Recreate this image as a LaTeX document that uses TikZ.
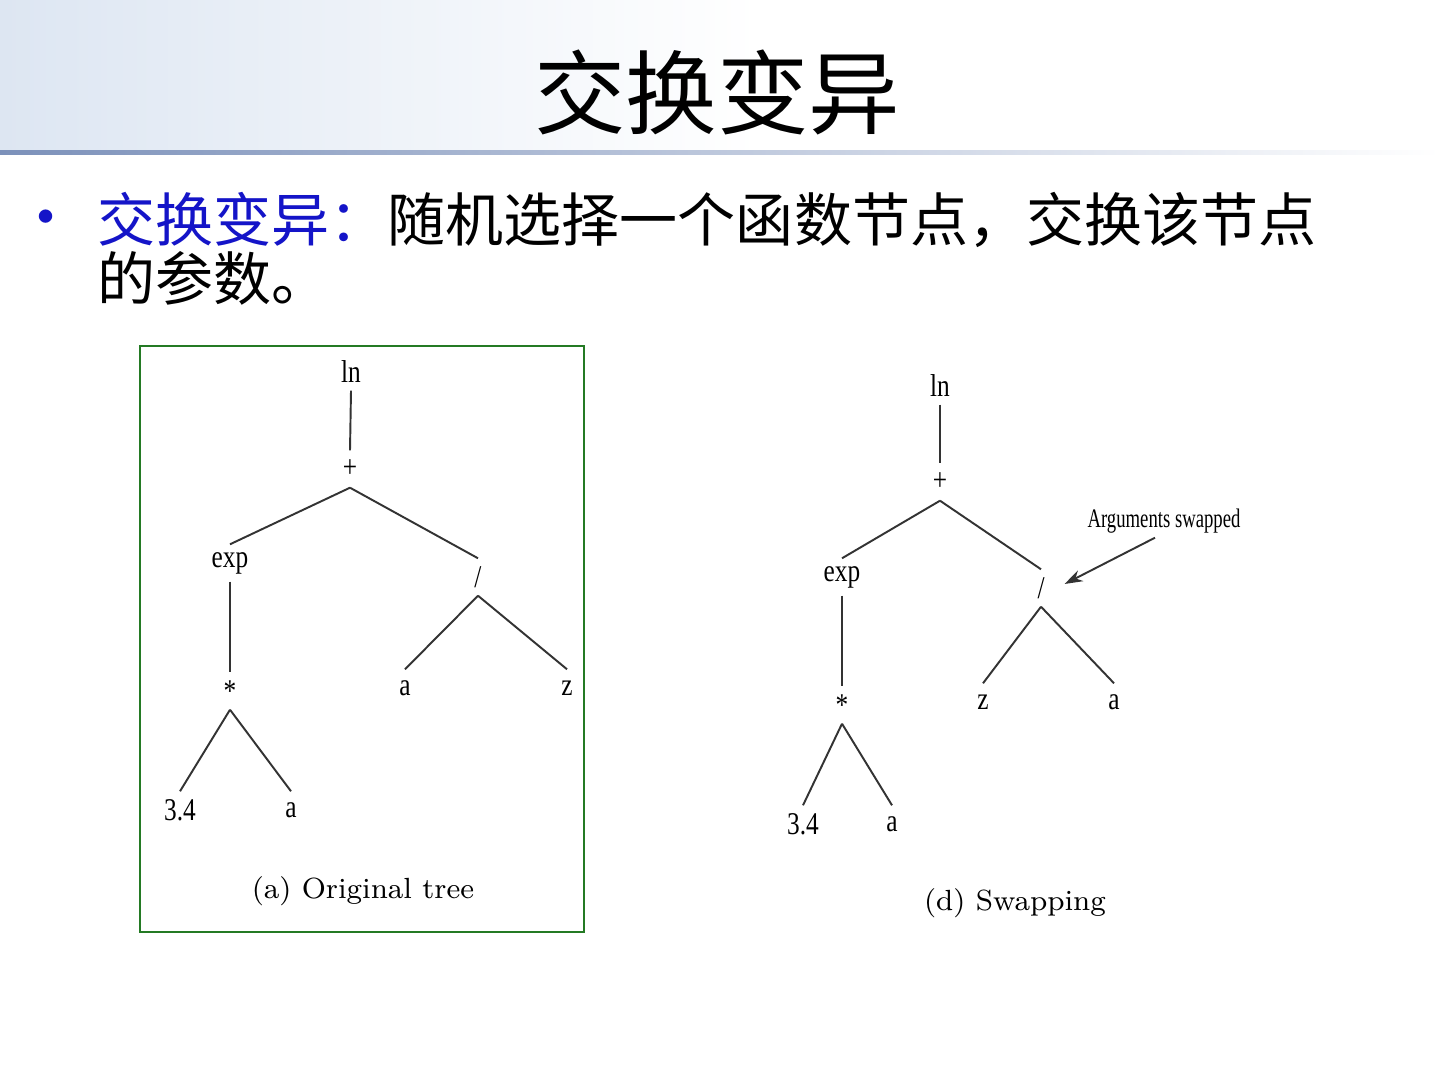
\documentclass[tikz,border=0pt]{standalone}
\usepackage{fontspec}
\usepackage{xcolor}
\usepackage{tikz}
\usetikzlibrary{arrows.meta,positioning}
\newfontfamily\cjk{Noto Sans CJK SC}
\newfontfamily\treefont{Liberation Serif}
\definecolor{barblue}{HTML}{DDE6F2}
\definecolor{barrule}{HTML}{7C91BA}
\definecolor{slideblue}{HTML}{1414C8}
\definecolor{framegreen}{HTML}{247A24}

\begin{document}
\begin{tikzpicture}[x=0.01cm,y=-0.01cm,
  lbl/.style={font=\treefont\fontsize{9}{9}\selectfont,xscale=0.8,inner sep=0pt,minimum height=0.36cm,minimum width=0.2cm},
  note/.style={font=\treefont\fontsize{7.6}{7.6}\selectfont,xscale=0.7,inner sep=0pt,minimum height=0.32cm},
  subcap/.style={font=\fontsize{8.3}{8.3}\selectfont,inner sep=0pt},
  edge/.style={line width=0.55pt,black!80},
  ar/.style={-{Stealth[length=1.8mm,width=1.2mm]},line width=0.55pt,black!80},
  frame/.style={draw=framegreen,line width=0.6pt},
]
\useasboundingbox (0,0) rectangle (1440,1080);
\fill[white] (0,0) rectangle (1440,1080);

% title bar
\shade[left color=barblue,right color=white] (0,0) rectangle (760,151);
\shade[left color=barrule,right color=white] (0,151) rectangle (1440,155);
\node[font=\cjk\fontsize{26}{26}\selectfont] (title) at (717,92) {交换变异};

% bullet text
\node[text=slideblue,font=\fontsize{17}{17}\selectfont] (dot) at (46,221) {\textbullet};
\node[anchor=west,inner sep=0pt,font=\cjk\fontsize{16.5}{16.5}\selectfont] (line1) at (97,220)
  {\textcolor{slideblue}{交换变异：}随机选择一个函数节点，交换该节点};
\node[anchor=west,inner sep=0pt,font=\cjk\fontsize{16.5}{16.5}\selectfont] (line2) at (97,278) {的参数。};

% (a) original tree
\draw[frame] (140,346) rectangle (584,932);
\node[lbl] (aln) at (351,372) {ln};
\node[lbl] (aplus) at (350,469) {+};
\node[lbl] (aexp) at (230,563) {exp};
\node[lbl] (adiv) at (478,577) {/};
\node[lbl] (amul) at (230,691) {*};
\node[lbl] (aa) at (405,688) {a};
\node[lbl] (az) at (567,688) {z};
\node[lbl] (anum) at (180,810) {3.4};
\node[lbl] (ab) at (291,810) {a};
\draw[edge] (aln.south) -- (aplus.north);
\draw[edge] (aplus.south) -- (aexp.north);
\draw[edge] (aplus.south) -- (adiv.north);
\draw[edge] (aexp.south) -- (amul.north);
\draw[edge] (adiv.south) -- (aa.north);
\draw[edge] (adiv.south) -- (az.north);
\draw[edge] (amul.south) -- (anum.north);
\draw[edge] (amul.south) -- (ab.north);
\node[subcap] (capa) at (363,891) {(a) Original tree};

% (d) swapped tree
\node[lbl] (dln) at (940,386) {ln};
\node[lbl] (dplus) at (940,482) {+};
\node[lbl] (dexp) at (842,577) {exp};
\node[lbl] (ddiv) at (1041,588) {/};
\node[lbl] (dmul) at (842,705) {*};
\node[lbl] (dz) at (983,702) {z};
\node[lbl] (da) at (1114,702) {a};
\node[lbl] (dnum) at (803,824) {3.4};
\node[lbl] (db) at (892,824) {a};
\draw[edge] (dln.south) -- (dplus.north);
\draw[edge] (dplus.south) -- (dexp.north);
\draw[edge] (dplus.south) -- (ddiv.north);
\draw[edge] (dexp.south) -- (dmul.north);
\draw[edge] (ddiv.south) -- (dz.north);
\draw[edge] (ddiv.south) -- (da.north);
\draw[edge] (dmul.south) -- (dnum.north);
\draw[edge] (dmul.south) -- (db.north);
\node[note] (swap) at (1164,521) {Arguments swapped};
\draw[ar] ([xshift=-0.09cm]swap.south) -- ([shift={(15,-4)}]ddiv.east);
\node[subcap] (capd) at (1015,903) {(d) Swapping};
\end{tikzpicture}
\end{document}
